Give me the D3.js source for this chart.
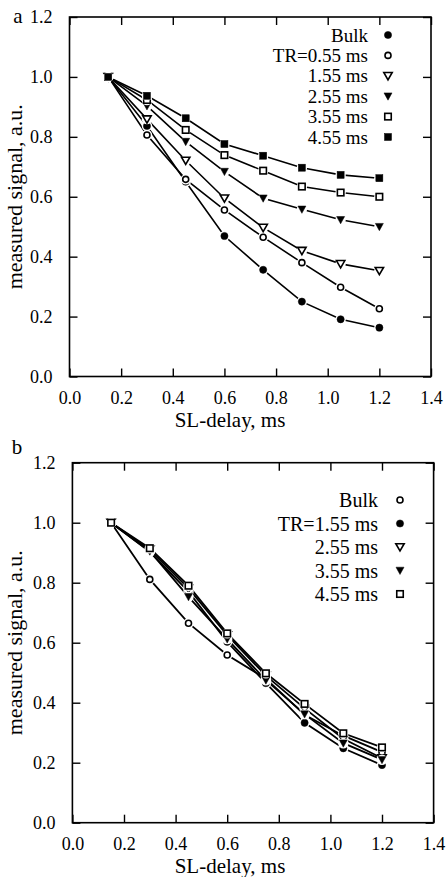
<!DOCTYPE html>
<html><head><meta charset="utf-8">
<script src="https://cdn.jsdelivr.net/npm/d3@7"></script>
<style>body{margin:0;background:#fff}svg{display:block}</style>
</head><body>
<svg id="c" width="446" height="877"></svg>
<script>
const xVals = [0.15,0.3,0.45,0.6,0.75,0.9,1.05,1.2];
const xTicks = [0,0.2,0.4,0.6,0.8,1.0,1.2,1.4];
const yTicks = [0,0.2,0.4,0.6,0.8,1.0,1.2];

// panel a
const aBulk  = [1,0.836,0.650,0.469,0.356,0.250,0.191,0.163];
const aTR055 = [1,0.806,0.658,0.556,0.465,0.380,0.298,0.226];
const aTR155 = [1,0.859,0.721,0.595,0.497,0.420,0.376,0.353];
const aTR255 = [1,0.903,0.784,0.684,0.595,0.558,0.523,0.500];
const aTR355 = [1,0.923,0.823,0.739,0.687,0.634,0.614,0.600];
const aTR455 = [1,0.937,0.862,0.776,0.737,0.697,0.673,0.662];
const aLabels = ["Bulk","TR=0.55 ms","1.55 ms","2.55 ms","3.55 ms","4.55 ms"];
const aSymbols = ["fcircle","ocircle","otri","ftri","osquare","fsquare"];

// panel b
const bBulk  = [1,0.811,0.665,0.559,0.480,0.360,0.290,0.235];
const bTR155 = [1,0.903,0.770,0.603,0.465,0.333,0.248,0.192];
const bTR255 = [1,0.910,0.781,0.625,0.490,0.381,0.280,0.215];
const bTR355 = [1,0.905,0.753,0.612,0.475,0.362,0.265,0.210];
const bTR455 = [1,0.915,0.790,0.631,0.498,0.396,0.298,0.251];
const bLabels = ["Bulk","TR=1.55 ms","2.55 ms","3.55 ms","4.55 ms"];
const bSymbols = ["ocircle","fcircle","otri","ftri","osquare"];

const FONT = "'Liberation Serif', 'Times New Roman', Tinos, 'DejaVu Serif', serif";
const svg = d3.select("#c").style("font-family", FONT);

function marker(g, type, x, y){
  const filled = type[0]==="f";
  const shape = type.slice(1);
  let el;
  if(shape==="circle"){
    el = g.append("circle").attr("cx",x).attr("cy",y).attr("r", filled?3.6:3);
  } else if(shape==="square"){
    const s = filled?7:6.5;
    el = g.append("rect").attr("x",x-s/2).attr("y",y-s/2).attr("width",s).attr("height",s);
  } else {
    const w = filled?4:4.2;
    el = g.append("path").attr("d",`M${x-w},${y-3.3}L${x+w},${y-3.3}L${x},${y+4}Z`);
  }
  el.attr("fill", filled?"#000":"#fff").attr("stroke","#000").attr("stroke-width", filled?0.5:1.6);
}

function panel(cfg){
  const x = d3.scaleLinear().domain([0,1.4]).range(cfg.xr);
  const y = d3.scaleLinear().domain([0,1.2]).range(cfg.yr);
  const g = svg.append("g");
  g.append("rect").attr("x",cfg.xr[0]).attr("y",cfg.yr[1]).attr("width",cfg.xr[1]-cfg.xr[0]).attr("height",cfg.yr[0]-cfg.yr[1])
    .attr("fill","none").attr("stroke","#000").attr("stroke-width",1.6);
  const tl = 8;
  const axB = d3.axisBottom(x).tickValues(xTicks).tickFormat(d3.format(".1f")).tickSizeInner(-tl).tickSizeOuter(0).tickPadding(15);
  const axT = d3.axisTop(x).tickValues(xTicks).tickFormat("").tickSizeInner(-tl).tickSizeOuter(0);
  const axL = d3.axisLeft(y).tickValues(yTicks).tickFormat(d3.format(".1f")).tickSizeInner(-tl).tickSizeOuter(0).tickPadding(17);
  const axR = d3.axisRight(y).tickValues(yTicks).tickFormat("").tickSizeInner(-tl).tickSizeOuter(0);
  [[axB,`translate(0,${cfg.yr[0]})`],[axT,`translate(0,${cfg.yr[1]})`],[axL,`translate(${cfg.xr[0]},0)`],[axR,`translate(${cfg.xr[1]},0)`]].forEach(([ax,t])=>{
    const a = g.append("g").attr("transform",t).call(ax);
    a.attr("font-family", FONT);
    a.select(".domain").remove();
    a.selectAll("line").attr("stroke","#000").attr("stroke-width",1.4);
    a.selectAll("text").attr("font-size",18).attr("fill","#000");
  });
  g.append("text").attr("x",cfg.titleX).attr("y",cfg.yr[0]+50).attr("text-anchor","middle").attr("font-size",21).text("SL-delay, ms");
  g.append("text").attr("transform",`translate(${cfg.ylabX},${(cfg.yr[0]+cfg.yr[1])/2}) rotate(-90)`).attr("text-anchor","middle").attr("font-size",22).text("measured signal, a.u.");
  g.append("text").attr("x",cfg.letterX).attr("y",cfg.yr[1]+cfg.letterDy).attr("text-anchor","middle").attr("font-size",21).text(cfg.letter);
  const line = d3.line().x((d,i)=>x(xVals[i])).y(d=>y(d));
  cfg.series.forEach(s=>{
    g.append("path").attr("d",line(s)).attr("fill","none").attr("stroke","#000").attr("stroke-width",cfg.lw);
  });
  cfg.series.forEach((s,k)=>{
    const mg = g.append("g");
    s.forEach((v,i)=>{
      mg.append("circle").attr("cx",x(xVals[i])).attr("cy",y(v)).attr("r",5.2).attr("fill","#fff");
    });
    s.forEach((v,i)=> marker(mg, cfg.symbols[k], x(xVals[i]), y(v)));
  });
  cfg.labels.forEach((lab,i)=>{
    const yy = cfg.legY + i*cfg.legDy;
    g.append("text").attr("x",cfg.legTx).attr("y",yy).attr("dy","0.35em").attr("text-anchor","end").attr("font-size",cfg.legFs).text(lab);
    marker(g, cfg.symbols[i], cfg.legMx, yy);
  });
}

panel({xr:[69.5,431], yr:[376.5,17], series:[aBulk,aTR055,aTR155,aTR255,aTR355,aTR455], symbols:aSymbols, labels:aLabels,
  legY:35, legDy:20.4, legTx:368, legMx:388, legFs:19, titleX:230, ylabX:22, letter:"a", letterX:18, letterDy:6, lw:1.6});
panel({xr:[72.4,433.6], yr:[822.7,462.7], series:[bBulk,bTR155,bTR255,bTR355,bTR455], symbols:bSymbols, labels:bLabels,
  legY:500, legDy:23.5, legTx:378, legMx:400, legFs:20, titleX:230, ylabX:22, letter:"b", letterX:17, letterDy:-9, lw:1.8});
</script>
</body></html>
